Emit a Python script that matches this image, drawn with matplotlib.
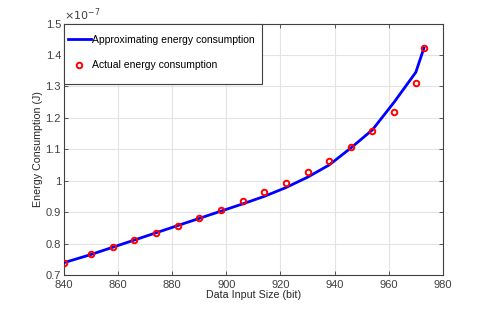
import matplotlib.pyplot as plt
import matplotlib
from matplotlib.patches import Rectangle

matplotlib.rcParams['font.family'] = ['Liberation Sans', 'DejaVu Sans']

# data input size (bit)
size_bits = [840, 850, 858, 866, 874, 882, 890, 898, 906, 914, 922, 930, 938, 946, 954, 962, 970, 973]
# energy in units of 1e-7 J
actual_energy = [0.739, 0.766, 0.789, 0.812, 0.835, 0.857, 0.882, 0.907, 0.934, 0.963, 0.993, 1.027,
                 1.063, 1.107, 1.159, 1.219, 1.312, 1.421]
approx_energy = [0.739, 0.765, 0.788, 0.811, 0.834, 0.857, 0.880, 0.903, 0.926, 0.950, 0.978, 1.011,
                 1.050, 1.104, 1.162, 1.250, 1.345, 1.422]

fig = plt.figure(figsize=(4.91, 3.10), dpi=100)
ax = fig.add_axes([0.130, 0.113, 0.772, 0.811])

ax.plot(size_bits, approx_energy, color='#0000ff', lw=2, label='Approximating energy consumption', zorder=3)
ax.plot(size_bits, actual_energy, 'o', mfc='none', mec='#ff0000', mew=1.4, ms=4,
        label='Actual energy consumption', zorder=4)

ax.set_xlim(840, 980)
ax.set_ylim(0.7, 1.5)
ax.set_xticks(range(840, 981, 20))
ax.set_yticks([0.7, 0.8, 0.9, 1.0, 1.1, 1.2, 1.3, 1.4, 1.5])
ax.set_yticklabels(['0.7', '0.8', '0.9', '1', '1.1', '1.2', '1.3', '1.4', '1.5'])
ax.grid(True, color='#e3e3e3', lw=0.8)
ax.set_axisbelow(True)
ax.tick_params(direction='in', top=True, right=True, labelsize=8, colors='#404040',
               length=3, width=0.6, pad=2)
ax.tick_params(axis='x', pad=3.5)
for s in ax.spines.values():
    s.set_color('#404040')
    s.set_linewidth(0.8)

ax.set_xlabel('Data Input Size (bit)', fontsize=7.7, color='#262626', labelpad=0)
ax.set_ylabel('Energy Consumption (J)', fontsize=7.7, color='#262626', labelpad=2)
ax.text(0.0, 1.003, r'$\times10^{-7}$', transform=ax.transAxes, fontsize=8, color='#404040',
        ha='left', va='bottom')

# legend box drawn separately (MATLAB style)
ax.add_patch(Rectangle((0, 0.759), 0.524, 0.241, transform=ax.transAxes, fc='white',
                       ec='#404040', lw=0.8, zorder=5, clip_on=False))
leg = ax.legend(loc='upper left', bbox_to_anchor=(0.01, 0.955), fontsize=7.5, frameon=False,
                borderpad=0, borderaxespad=0, handlelength=2.2, handletextpad=0.1,
                labelspacing=1.5)
leg.set_zorder(6)

fig.savefig('out.png', dpi=100)
